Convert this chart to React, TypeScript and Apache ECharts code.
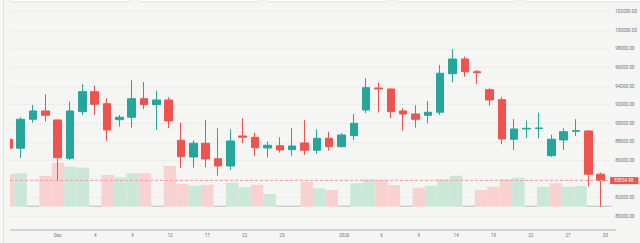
import { useEffect, useRef } from "react";
import * as echarts from "echarts";

// Daily BTC candles (open / close / low / high) and traded volume.
const opens = [
  88283, 87316, 90433, 91325, 90358, 86241, 91250, 93400, 92110, 90390,
  90648, 92648, 92003, 92508, 88176, 86380, 87853, 86198, 85413, 88638,
  88498, 87348, 87595, 87165, 87886, 87101, 88391, 87488, 88670, 91433,
  93798, 93690, 91325, 91003, 90863, 91186, 95335, 96915, 95550, 93615,
  92540, 88283, 89390, 89440, 86520, 88208, 89143, 89175, 84521,
];
const closes = [
  87316, 90433, 91325, 90863, 86305, 91325, 93400, 92046, 89283, 90648,
  92648, 92003, 92508, 90250, 86413, 87853, 86165, 85413, 88100, 88498,
  87380, 87638, 87133, 87563, 87101, 88391, 87488, 88745, 90003, 93830,
  93690, 91250, 91003, 90433, 91186, 95378, 96915, 95550, 95443, 92508,
  88315, 89390, 89466, 89500, 88283, 89100, 89208, 84521, 83834.98,
];
const lows = [
  87200, 86241, 90068, 90175, 83780, 86058, 90895, 90895, 88100, 89638,
  89530, 91508, 89283, 89466, 85166, 85230, 85273, 84370, 84983, 87853,
  86488, 86305, 86843, 86520, 86596, 86703, 87058, 87423, 88208, 91078,
  91143, 90541, 89208, 89530, 90003, 90895, 94411, 95013, 94196, 91895,
  87745, 87133, 88391, 88391, 86380, 87133, 88638, 83188, 81036,
];
const highs = [
  88400, 90648, 91970, 93121, 90400, 92325, 94228, 94045, 92691, 90895,
  94658, 94443, 93508, 92798, 90068, 88176, 90358, 89466, 89358, 90541,
  88993, 88025, 88498, 89466, 90358, 89358, 89100, 88928, 91003, 94841,
  94368, 93720, 91616, 91938, 92400, 96271, 97958, 97163, 95733, 93766,
  92863, 90465, 90283, 91143, 88778, 89466, 90433, 89250, 84693,
];
const volumes = [
  32.7, 33.4, 0, 30.7, 44, 40, 39, 0, 31.7, 29.4,
  33.4, 33.4, 0, 40.7, 22.7, 21, 22, 0, 24, 19.4,
  22, 12.7, 0, 0, 25, 18.4, 16.7, 0, 23.4, 27.4,
  26.7, 21.7, 0, 19, 21, 27.7, 31, 0, 16.7, 20,
  27.4, 29, 0, 20, 23.4, 20, 20.7, 0, 0,
];

// Date ticks along the time axis (candle index -> label).
const tickIndex = [4, 7, 10, 13, 16, 19, 22, 27, 30, 33, 36, 39, 42, 45, 48];
const tickLabels = ["Dec", "4", "9", "12", "17", "22", "25", "2026", "6", "9", "14", "19", "22", "27", "30"];

const BG = "#f5f6f4";
const UP = "#26a69a";
const DOWN = "#ef5350";
const UP_VOL = "#cbe7d8";
const DOWN_VOL = "#f7d2d0";
const FLAT_VOL = "#b9bec1";
const LABEL = "#6d7278";
const FONT = "Roboto, sans-serif";

export default function App() {
  const ref = useRef<HTMLDivElement>(null);

  useEffect(() => {
    document.body.style.margin = "0";
    const chart = echarts.init(ref.current!, null, { renderer: "svg" });

    const candles = opens.map((o, i) => [i, o, closes[i], lows[i], highs[i]]);
    const vols = volumes.map((v, i) => {
      const rising = i === 0 ? closes[i] >= opens[i] : closes[i] >= closes[i - 1];
      return {
        value: [i, v],
        itemStyle: { color: v === 0 ? FLAT_VOL : rising ? UP_VOL : DOWN_VOL },
      };
    });
    const lastClose = closes[closes.length - 1];
    const xMin = 0.1415;
    const xMax = 48.77;

    const tabs = [
      [10, 121],
      [139, 121],
      [267, 121],
      [396, 120],
      [524, 130],
    ].map(([x, w]) => ({
      type: "rect",
      z: 101,
      shape: { x, y: -4, width: w, height: 5.8, r: 2 },
      style: { fill: "#ffffff", stroke: "#dcdfdf", lineWidth: 0.8 },
      silent: true,
    }));

    chart.setOption({
      animation: false,
      backgroundColor: BG,
      grid: [
        { left: 10, right: 25, top: 11.7, bottom: 26.7 },
        { left: 10, right: 25, top: 106.7, bottom: 13 },
      ],
      xAxis: [
        { gridIndex: 0, type: "value", min: xMin, max: xMax, show: false },
        {
          gridIndex: 1,
          type: "value",
          min: xMin,
          max: xMax,
          axisLine: { show: true, onZero: false, lineStyle: { color: "#c3c9cc", width: 1.5 } },
          axisTick: { show: false },
          splitLine: { show: false },
          axisLabel: {
            customValues: tickIndex,
            formatter: (v: number) => tickLabels[tickIndex.indexOf(Math.round(v))] ?? "",
            fontSize: 4.6,
            fontFamily: FONT,
            color: LABEL,
            margin: 3,
          },
        },
      ],
      yAxis: [
        {
          gridIndex: 0,
          type: "value",
          position: "right",
          min: 80000,
          max: 102000,
          interval: 2000,
          axisLine: { show: false },
          axisTick: { show: false },
          splitLine: { show: true, lineStyle: { color: "#e2e5e3", type: "dotted", width: 1 } },
          axisLabel: {
            fontSize: 4.6,
            fontFamily: FONT,
            color: LABEL,
            margin: 5,
            formatter: (v: number) => v.toFixed(2),
          },
        },
        { gridIndex: 1, type: "value", min: -23.3, max: 100, show: false },
      ],
      graphic: [
        // left gutter: hides the part of the first candle outside the plot
        {
          type: "rect",
          z: 100,
          shape: { x: 0, y: 0, width: 10, height: 243 },
          style: { fill: BG },
          silent: true,
        },
        {
          type: "line",
          z: 101,
          shape: { x1: 3.5, y1: 0, x2: 3.5, y2: 243 },
          style: { stroke: "#dfe2e2", lineWidth: 1 },
          silent: true,
        },
        ...tabs,
      ],
      series: [
        {
          type: "bar",
          xAxisIndex: 1,
          yAxisIndex: 1,
          data: vols,
          barWidth: 12.44,
          barMinHeight: 1,
          clip: true,
        },
        {
          type: "candlestick",
          xAxisIndex: 0,
          yAxisIndex: 0,
          data: candles,
          encode: { x: 0, y: [1, 2, 3, 4] },
          barWidth: 8,
          clip: true,
          itemStyle: {
            color: UP,
            color0: DOWN,
            borderColor: UP,
            borderColor0: DOWN,
            borderWidth: 1,
          },
          markLine: {
            silent: true,
            symbol: ["none", "none"],
            data: [{ yAxis: lastClose }],
            lineStyle: { color: "#f3a3a1", type: [3, 2], width: 1 },
            label: {
              show: true,
              position: "end",
              distance: 0,
              formatter: lastClose.toFixed(2),
              backgroundColor: DOWN,
              color: "#ffffff",
              fontSize: 4.6,
              fontFamily: FONT,
              padding: [1, 5, 1, 4],
            },
          },
        },
      ],
    });

    return () => chart.dispose();
  }, []);

  return <div ref={ref} style={{ width: 640, height: 243 }} />;
}
